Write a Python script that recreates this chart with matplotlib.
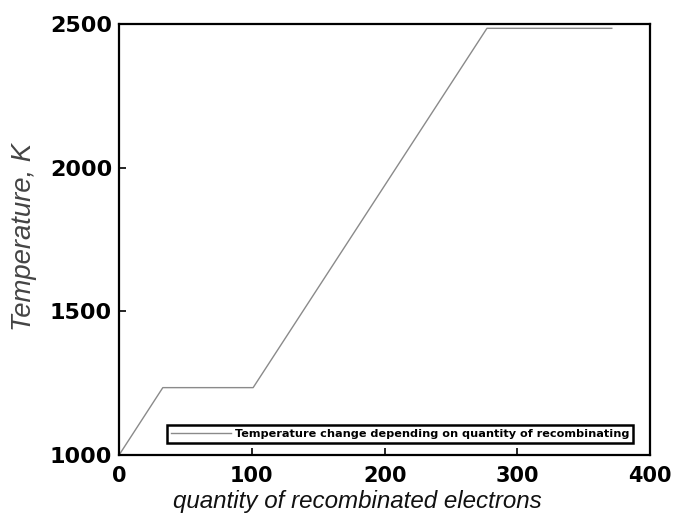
import matplotlib
matplotlib.use("Agg")
import matplotlib.pyplot as plt

# data
electrons = [0, 33, 101, 277, 371]
temperature = [1000, 1235, 1235, 2485, 2485]
x_ticks = [0, 100, 200, 300, 400]
y_ticks = [1000, 1500, 2000, 2500]
legend_label = "Temperature change depending on quantity of recombinating"


def main():
    fig = plt.figure(figsize=(6.76, 5.22), dpi=100)
    ax = fig.add_axes([0.176, 0.128, 0.786, 0.826])
    ax.plot(electrons, temperature, color="#8a8a8a", linestyle="-", linewidth=1.0,
            label=legend_label)
    ax.set_xlim(0, 400)
    ax.set_ylim(1000, 2500)
    ax.set_xticks(x_ticks)
    ax.set_yticks(y_ticks)
    ax.tick_params(direction="in", length=5, width=1.2)
    ax.tick_params(axis="x", labelsize=15, pad=8)
    ax.tick_params(axis="y", labelsize=16, pad=5)
    for lab in ax.get_xticklabels() + ax.get_yticklabels():
        lab.set_fontfamily("DejaVu Sans")
        lab.set_fontweight("bold")
    for sp in ax.spines.values():
        sp.set_linewidth(1.6)
    ax.set_xlabel("quantity of recombinated electrons", fontsize=17.4, style="italic",
                  family="Liberation Sans", color="#111111")
    ax.set_ylabel("Temperature, K", fontsize=19.8, style="italic",
                  family="Liberation Sans", color="#444444")
    ax.xaxis.set_label_coords(0.448, -0.081)
    ax.yaxis.set_label_coords(-0.154, 0.506)
    leg = ax.legend(loc="lower right", bbox_to_anchor=(0.968, 0.028), fancybox=False,
                    framealpha=1, edgecolor="black", handlelength=5.4, handletextpad=0.3,
                    borderpad=0.35, borderaxespad=0,
                    prop={"family": "DejaVu Sans Condensed", "weight": "bold", "size": 8.1})
    leg.get_frame().set_linewidth(1.8)
    plt.savefig("out.png", dpi=100)


if __name__ == "__main__":
    main()
